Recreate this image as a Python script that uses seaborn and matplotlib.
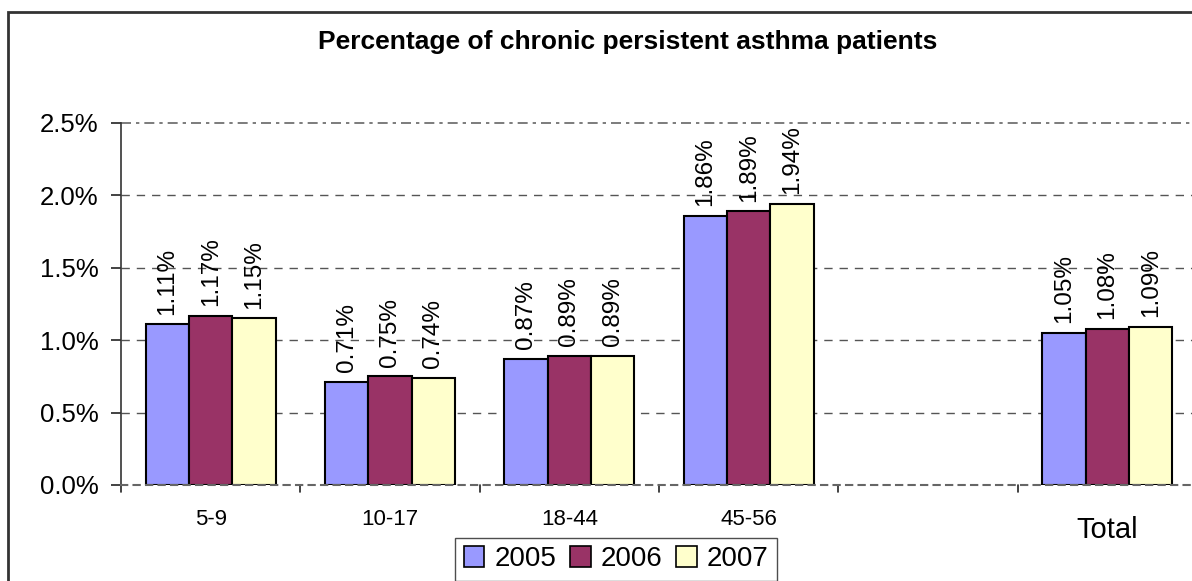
import matplotlib
matplotlib.use("Agg")
import matplotlib.pyplot as plt
import matplotlib.patches as mpatches
from matplotlib.ticker import FuncFormatter, MultipleLocator
import seaborn as sns
import pandas as pd
import numpy as np

# Age groups (an empty slot separates the total from the age groups)
categories = ["5-9", "10-17", "18-44", "45-56", " ", "Total"]
years = ["2005", "2006", "2007"]
# Share of chronic persistent asthma patients, in percent
pct_2005 = [1.11, 0.71, 0.87, 1.86, np.nan, 1.05]
pct_2006 = [1.17, 0.75, 0.89, 1.89, np.nan, 1.08]
pct_2007 = [1.15, 0.74, 0.89, 1.94, np.nan, 1.09]
colors = ["#9999FF", "#993366", "#FFFFCC"]

rows = []
for yr, vals in zip(years, [pct_2005, pct_2006, pct_2007]):
    for cat, v in zip(categories, vals):
        rows.append({"group": cat, "year": yr, "pct": v})
df = pd.DataFrame(rows)

sns.set_theme(style="white")
plt.rcParams["font.family"] = ["Liberation Sans", "DejaVu Sans"]
plt.rcParams["text.color"] = "black"
plt.rcParams["xtick.color"] = "black"
plt.rcParams["ytick.color"] = "black"
plt.rcParams["axes.labelcolor"] = "black"

W, H = 1192, 581
fig = plt.figure(figsize=(W / 100, H / 100), dpi=100)
ax = fig.add_axes([121 / W, 1 - 485 / H, (1197 - 121) / W, (485 - 123) / H])

sns.barplot(data=df, x="group", y="pct", hue="year", order=categories,
            hue_order=years, palette=colors, width=0.725, ax=ax,
            edgecolor="black", linewidth=1.5, saturation=1, legend=True,
            errorbar=None)

ax.set_xlim(-0.5, len(categories) - 0.5)
ax.set_ylim(0, 2.5)
ax.yaxis.set_major_locator(MultipleLocator(0.5))
ax.yaxis.set_major_formatter(FuncFormatter(lambda v, p: f"{v:.1f}%"))
ax.set_xlabel("")
ax.set_ylabel("")

# dashed horizontal gridlines
ax.grid(False)
for yv in np.arange(0.5, 2.01, 0.5):
    ax.axhline(yv, color="#555555", lw=1, ls=(0, (6, 5)), zorder=0)

# value labels above bars
for cont, yr in zip(ax.containers, years):
    labels = [("" if np.isnan(b.get_height()) else f"{b.get_height():.2f}%")
              for b in cont]
    ax.bar_label(cont, labels=labels, rotation=90, padding=7, fontsize=17.5,
                 color="black")

# category ticks at the boundaries, labels at centers
ax.set_xticks(np.arange(len(categories)))
ax.set_xticklabels([])
ax.tick_params(axis="x", length=0)
for i, cat in enumerate(categories):
    if cat.strip() == "":
        continue
    if cat == "Total":
        ax.text(i, -0.086, cat, ha="center", va="top", fontsize=21,
                transform=ax.get_xaxis_transform())
    else:
        ax.text(i, -0.066, cat, ha="center", va="top", fontsize=16,
                transform=ax.get_xaxis_transform())
for b in np.arange(-0.5, len(categories), 1.0):
    ax.plot([b, b], [0, -0.018], color="#222222", lw=1.2, clip_on=False,
            transform=ax.get_xaxis_transform())

ax.tick_params(axis="y", left=True, length=7, width=1.2, color="#222222",
               labelsize=18.5, pad=9)

for s in ["top", "right"]:
    ax.spines[s].set_visible(False)
ax.spines["left"].set_color("#333333")
ax.spines["left"].set_linewidth(1.2)
ax.spines["bottom"].set_color("#666666")
ax.spines["bottom"].set_linewidth(1.5)
ax.spines["bottom"].set_linestyle((0, (3, 3)))
ax.axhline(2.5, color="#666666", lw=1.2, ls=(0, (6, 3, 2, 3)), zorder=0,
           clip_on=False)

# legend below the axes
handles = [mpatches.Patch(facecolor=c, edgecolor="black", lw=1.2) for c in colors]
ax.legend(handles, years, loc="upper center", ncol=3, frameon=True,
          bbox_to_anchor=(616 / W, 1 - 538 / H), bbox_transform=fig.transFigure,
          fontsize=20, handlelength=0.75, handleheight=0.75,
          handletextpad=0.35, columnspacing=0.5, borderpad=0.3,
          fancybox=False, edgecolor="#222222", borderaxespad=0)

fig.text(628 / W, 1 - 42 / H, "Percentage of chronic persistent asthma patients",
         ha="center", va="center", fontsize=19, fontweight="bold")

# outer chart frame (runs past the right and bottom edges)
fig.patches.append(mpatches.Rectangle((8 / W, -0.05), 1.1, 1 - 11.5 / H + 0.05,
                                      transform=fig.transFigure, fill=False,
                                      edgecolor="#333333", lw=2))

fig.savefig("out.png", dpi=100)
